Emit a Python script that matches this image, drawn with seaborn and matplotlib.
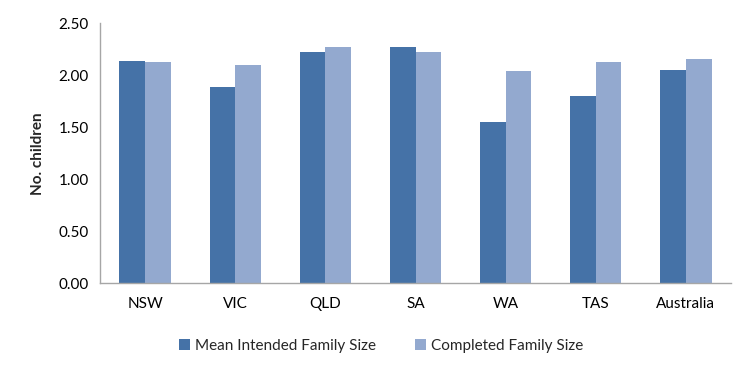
import pandas as pd
import numpy as np
import matplotlib
matplotlib.use('Agg')
import matplotlib.pyplot as plt
import seaborn as sns
from matplotlib.patches import Patch
from matplotlib.ticker import FixedLocator, FormatStrFormatter

# data
states = ['NSW', 'VIC', 'QLD', 'SA', 'WA', 'TAS', 'Australia']
intended = [2.14, 1.89, 2.22, 2.27, 1.55, 1.80, 2.05]
completed = [2.13, 2.10, 2.27, 2.22, 2.04, 2.13, 2.16]
series_names = ['Mean Intended Family Size', 'Completed Family Size']
colors = ['#4572A7', '#93A9CF']

df = pd.DataFrame({'state': states * 2,
                   'value': intended + completed,
                   'series': [series_names[0]] * len(states) + [series_names[1]] * len(states)})

sns.set_style('white')
plt.rcParams['font.family'] = ['Lato', 'DejaVu Sans']

fig = plt.figure(figsize=(7.54, 3.78), dpi=100)
ax = fig.add_axes([100 / 754, (378 - 283.3) / 378, 631 / 754, 260 / 378])

sns.barplot(data=df, x='state', y='value', hue='series', palette=colors,
            width=0.57, saturation=1, ax=ax, legend=False, linewidth=0)

ax.set_ylim(0, 2.5)
ax.set_xlim(-0.5, len(states) - 0.5)
ax.set_yticks(np.arange(0, 2.51, 0.5))
ax.yaxis.set_major_formatter(FormatStrFormatter('%.2f'))
ax.set_xlabel('')
ax.set_ylabel('No. children', fontsize=11, fontweight='bold', labelpad=10)

gray = '#A6A6A6'
for side in ['top', 'right']:
    ax.spines[side].set_visible(False)
for side in ['left', 'bottom']:
    ax.spines[side].set_color(gray)
    ax.spines[side].set_linewidth(1)

ax.tick_params(axis='x', which='major', length=0, labelsize=11, pad=10, colors='#000000')
ax.xaxis.set_minor_locator(FixedLocator(np.arange(-0.5, len(states), 1)))
ax.tick_params(axis='x', which='minor', length=5, color=gray, width=1, direction='out')
ax.tick_params(axis='y', length=4, color=gray, width=1, labelsize=11, pad=4, direction='out')
ax.tick_params(axis='both', labelcolor='#000000')

handles = [Patch(facecolor=c, edgecolor='none') for c in colors]
fig.legend(handles, series_names, loc='center', bbox_to_anchor=(381 / 754, 32 / 378),
           ncol=2, frameon=False, fontsize=11, handlelength=0.7, handleheight=0.7,
           handletextpad=0.3, columnspacing=2.6)

fig.savefig('out.png', dpi=100)
